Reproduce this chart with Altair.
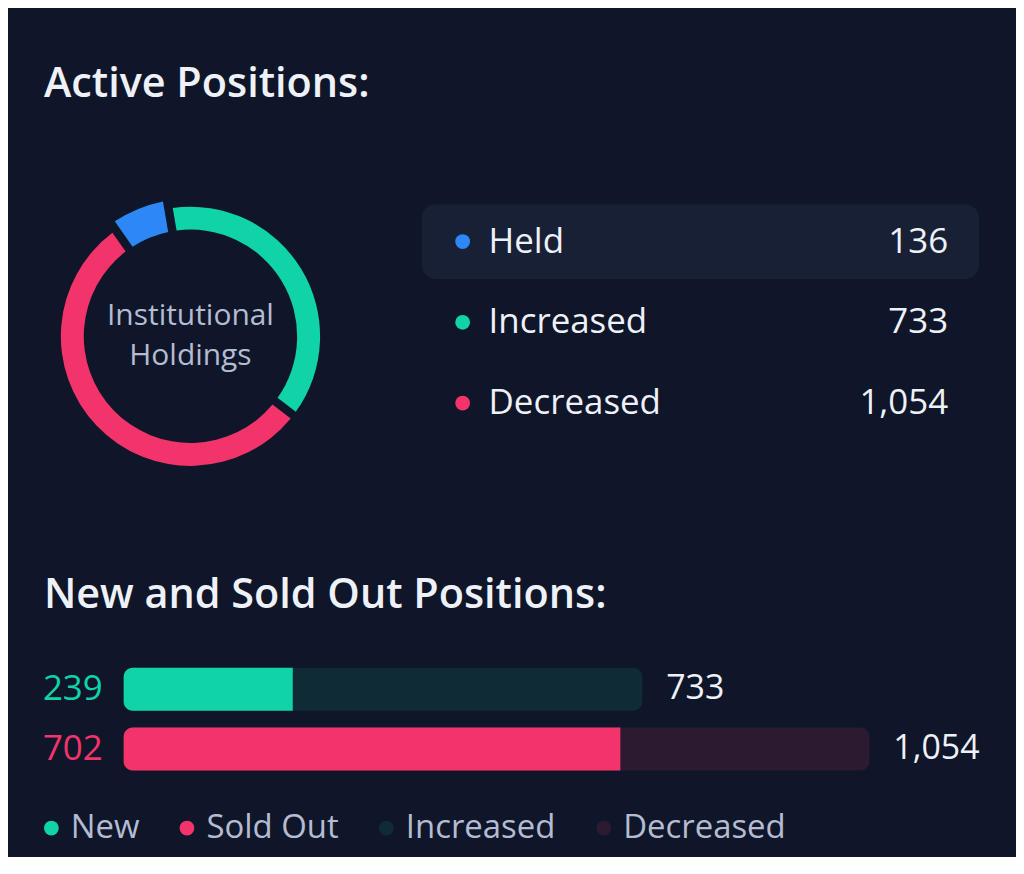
import math
import altair as alt
import pandas as pd

# ---------------- data ----------------
active_categories = ["Held", "Increased", "Decreased"]
active_values = [136, 733, 1054]
center_label = ["Institutional", "Holdings"]

bar_categories = ["Increased", "Decreased"]
bar_totals = [733, 1054]
bar_sub_labels = ["New", "Sold Out"]
bar_sub_values = [239, 702]
legend_order = ["New", "Sold Out", "Increased", "Decreased"]

title_active = "Active Positions:"
title_bars = "New and Sold Out Positions:"

# ---------------- style ----------------
FONT = "Open Sans"
BG = "#0f1629"
HL = "#182035"
WHITE = "#eef1f8"
GRAY = "#b5bcd2"
BLUE = "#2e87f6"
GREEN = "#10d3a9"
RED = "#f3346a"
DARK_TEAL = "#0f2b36"
DARK_RED = "#2b1a30"

active_df = pd.DataFrame({
    "category": active_categories,
    "value": active_values,
    "idx": list(range(len(active_categories))),
})
bars_df = pd.DataFrame({
    "category": bar_categories,
    "total": bar_totals,
    "sub_label": bar_sub_labels,
    "sub_value": bar_sub_values,
})

# ---------------- donut ----------------
W_D, H_D = 200, 271
CX = 67  # donut centre, relative to the panel origin
start = 2 * math.pi - 0.614
theta = alt.Theta("value:Q", stack=True,
                  scale=alt.Scale(range=[start, start + 2 * math.pi]))
color_active = alt.Color("category:N",
                         scale=alt.Scale(domain=active_categories, range=[BLUE, GREEN, RED]),
                         legend=None)
base = alt.Chart(active_df).encode(theta=theta, order=alt.Order("idx:Q"), color=color_active,
                                   x=alt.value(CX), y=alt.value(H_D / 2))
ring = base.mark_arc(innerRadius=107, outerRadius=130, padAngle=0.05).encode(
    opacity=alt.condition("datum.category != 'Held'", alt.value(1), alt.value(0)))
held = base.mark_arc(innerRadius=107, outerRadius=138, padAngle=0.05).encode(
    opacity=alt.condition("datum.category == 'Held'", alt.value(1), alt.value(0)))
center = alt.Chart(pd.DataFrame({"k": [0]})).mark_text(
    text=center_label, font=FONT, fontSize=30, lineHeight=40, color=GRAY,
    align="center", baseline="middle", dy=-20).encode(x=alt.value(CX), y=alt.value(H_D / 2))
donut = alt.layer(ring, held, center).properties(width=W_D, height=H_D)

# ---------------- table ----------------
W_T, H_T = 559, 243
y_t = alt.Y("category:N", axis=None,
            scale=alt.Scale(domain=active_categories, paddingInner=0.074, paddingOuter=0.037))
tb = alt.Chart(active_df)
hl = tb.transform_filter("datum.category == 'Held'").mark_rect(
    cornerRadius=14, color=HL).encode(y=y_t, x=alt.value(0), x2=alt.value(W_T))
dots = tb.mark_circle(size=220, opacity=1).encode(y=y_t, x=alt.value(41), color=color_active)
labels = tb.mark_text(align="left", baseline="middle", font=FONT, fontSize=35,
                      color=WHITE).encode(y=y_t, x=alt.value(67), text="category:N")
vals = tb.mark_text(align="right", baseline="middle", font=FONT, fontSize=35,
                    color=WHITE).encode(y=y_t, x=alt.value(528),
                                        text=alt.Text("value:Q", format=","))
table = alt.layer(hl, dots, labels, vals).properties(width=W_T, height=H_T)

top = alt.hconcat(donut, table, spacing=94).properties(
    title=alt.Title(title_active, anchor="start", frame="group", dx=-80, font=FONT,
                    fontSize=41.5, fontWeight=600, color=WHITE, offset=93.5))

# ---------------- bars ----------------
W_B, H_B = 748, 103
x_b = alt.Scale(domain=[0, max(bar_totals)], nice=False)
y_b = alt.Y("category:N", axis=None,
            scale=alt.Scale(domain=bar_categories, paddingInner=0.283, paddingOuter=0))
color_b = alt.Scale(domain=legend_order, range=[GREEN, RED, DARK_TEAL, DARK_RED])
legend_b = alt.Legend(title=None, orient="none", legendX=-89, legendY=144,
                      direction="horizontal", symbolType="circle", symbolSize=220,
                      labelFont=FONT, labelFontSize=33, labelColor=GRAY, labelLimit=300,
                      columnPadding=31, labelOffset=3, padding=0, symbolStrokeWidth=0)
bb = alt.Chart(bars_df)
bg_bar = bb.mark_bar(cornerRadius=9).encode(
    x=alt.X("total:Q", scale=x_b, axis=None, stack=None), y=y_b,
    color=alt.Color("category:N", scale=color_b, legend=legend_b))
fg_bar = bb.mark_bar(cornerRadiusTopLeft=9, cornerRadiusBottomLeft=9).encode(
    x=alt.X("sub_value:Q", scale=x_b, axis=None, stack=None), y=y_b,
    color=alt.Color("sub_label:N", scale=color_b, legend=legend_b))
left_lbl = bb.mark_text(align="right", baseline="middle", font=FONT, fontSize=35).encode(
    x=alt.value(-21), y=y_b, text="sub_value:Q",
    color=alt.condition("datum.sub_label == 'New'", alt.value(GREEN), alt.value(RED)))
right_lbl = bb.mark_text(align="left", baseline="middle", font=FONT, fontSize=34,
                         dx=24, color=WHITE).encode(
    x=alt.X("total:Q", scale=x_b, axis=None), y=y_b,
    text=alt.Text("total:Q", format=","))
bars = alt.layer(bg_bar, fg_bar, left_lbl, right_lbl).properties(
    width=W_B, height=H_B,
    title=alt.Title(title_bars, anchor="start", frame="group", dx=-80, font=FONT,
                    fontSize=41.5, fontWeight=600, color=WHITE, offset=51))

chart = alt.vconcat(top, bars, spacing=101).resolve_scale(
    color="independent"
).properties(
    padding={"left": 27, "top": 54.5, "right": 36, "bottom": 10}
).configure(background=BG, font=FONT).configure_view(stroke=None)

chart.save("out.html", embed_options={"renderer": "svg", "actions": False})
